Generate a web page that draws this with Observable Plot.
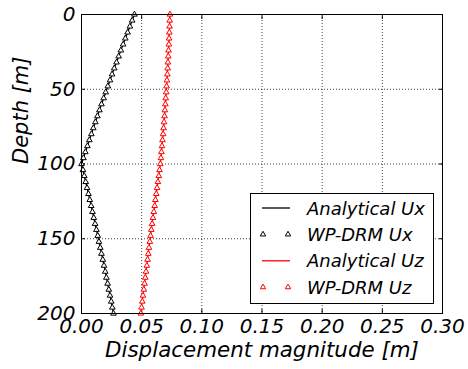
<!DOCTYPE html>
<html><head><meta charset="utf-8">
<script src="https://cdn.jsdelivr.net/npm/d3@7"></script>
<script src="https://cdn.jsdelivr.net/npm/@observablehq/plot@0.6"></script>
<style>body{margin:0;background:#fff} #chart{width:468px;height:369px;position:relative}</style>
</head><body><div id="chart"></div>
<script>
const depth = [0,4,8,12,16,20,24,28,32,36,40,44,48,52,56,60,64,68,72,76,80,84,88,92,96,100,
  104,108,112,116,120,124,128,132,136,140,144,148,152,156,160,164,168,172,176,180,184,188,192,196,200];
const uxValues = [0.0440,0.0421,0.0402,0.0383,0.0364,0.0346,0.0327,0.0309,0.0291,0.0272,0.0254,0.0237,0.0219,
  0.0201,0.0184,0.0166,0.0149,0.0132,0.0115,0.0098,0.0082,0.0065,0.0049,0.0032,0.0016,0.0000,
  0.0012,0.0023,0.0035,0.0046,0.0058,0.0069,0.0080,0.0091,0.0102,0.0113,0.0124,0.0135,0.0145,0.0156,
  0.0166,0.0177,0.0187,0.0197,0.0207,0.0217,0.0227,0.0237,0.0247,0.0256,0.0266];
const uzValues = [0.0735,0.0733,0.0732,0.0730,0.0728,0.0726,0.0723,0.0721,0.0718,0.0716,0.0713,0.0710,0.0707,
  0.0704,0.0700,0.0697,0.0693,0.0690,0.0686,0.0682,0.0678,0.0673,0.0669,0.0664,0.0660,0.0655,
  0.0648,0.0642,0.0635,0.0628,0.0621,0.0614,0.0608,0.0601,0.0594,0.0587,0.0580,0.0574,0.0568,0.0561,
  0.0555,0.0549,0.0543,0.0536,0.0530,0.0524,0.0518,0.0511,0.0505,0.0499,0.0493];
const xTicks = [0, 0.05, 0.10, 0.15, 0.20, 0.25, 0.30];
const yTicks = [0, 50, 100, 150, 200];
const legendLabels = ["Analytical Ux", "WP-DRM Ux", "Analytical Uz", "WP-DRM Uz"];
const legendColors = ["black", "black", "red", "red"];
const legendKinds = ["line", "marker", "line", "marker"];
const xLabel = "Displacement magnitude [m]";
const yLabel = "Depth [m]";

const ux = depth.map((d, i) => ({depth: d, value: uxValues[i]}));
const uz = depth.map((d, i) => ({depth: d, value: uzValues[i]}));

const font = "'DejaVu Sans', sans-serif";
const grid = {stroke: "#000", strokeOpacity: 0.75, strokeDasharray: "1,2"};

const chart = Plot.plot({
  width: 468, height: 369,
  marginLeft: 81, marginRight: 26, marginTop: 14, marginBottom: 56,
  x: {domain: [0, 0.30]},
  y: {domain: [0, 200], reverse: true},
  style: {fontFamily: font, fontStyle: "italic", background: "white", color: "black"},
  marks: [
    Plot.gridX(xTicks, grid),
    Plot.gridY(yTicks, grid),
    Plot.axisX(xTicks, {anchor: "bottom", tickSize: 0, tickPadding: 5, tickFormat: d3.format(".2f"), fontSize: 20, label: null}),
    Plot.axisY(yTicks, {anchor: "left", tickSize: 0, tickPadding: 6, tickFormat: d3.format("d"), fontSize: 20, label: null}),
    Plot.axisX(xTicks, {anchor: "bottom", tickSize: -4, text: null, label: null}),
    Plot.axisX(xTicks, {anchor: "top", tickSize: -4, text: null, label: null}),
    Plot.axisY(yTicks, {anchor: "left", tickSize: -4, text: null, label: null}),
    Plot.axisY(yTicks, {anchor: "right", tickSize: -4, text: null, label: null}),
    Plot.line(ux, {x: "value", y: "depth", stroke: "black", strokeWidth: 1.3}),
    Plot.dot(ux, {x: "value", y: "depth", symbol: "triangle", r: 2.1, stroke: "black", fill: "white", strokeWidth: 1}),
    Plot.line(uz, {x: "value", y: "depth", stroke: "red", strokeWidth: 1.3}),
    Plot.dot(uz, {x: "value", y: "depth", symbol: "triangle", r: 2.1, stroke: "red", fill: "white", strokeWidth: 1}),
    Plot.frame({stroke: "black", strokeWidth: 1}),
    Plot.text([xLabel], {frameAnchor: "bottom", dy: 43, lineAnchor: "bottom", fontSize: 21.4, text: d => d}),
    Plot.text([yLabel], {frameAnchor: "left", dx: -53.5, rotate: -90, lineAnchor: "bottom", fontSize: 21, text: d => d})
  ]
});
document.getElementById("chart").appendChild(chart);

// legend
const svg = d3.select(chart);
const lg = svg.append("g").attr("font-family", font).attr("font-style", "italic")
  .attr("font-size", 18).attr("text-anchor", "start");
lg.append("rect").attr("x", 250.5).attr("y", 193.5).attr("width", 183).attr("height", 110)
  .attr("fill", "white").attr("stroke", "black").attr("stroke-width", 1);
const tri = d3.symbol(d3.symbolTriangle, 2 * 2 * Math.PI)();
legendLabels.forEach((lab, i) => {
  const cy = 208 + i * 26.4;
  const row = lg.append("g");
  if (legendKinds[i] === "line") {
    row.append("line").attr("x1", 262).attr("x2", 290).attr("y1", cy).attr("y2", cy)
      .attr("stroke", legendColors[i]).attr("stroke-width", 1.3);
  } else {
    [263, 288].forEach(mx => row.append("path").attr("d", tri)
      .attr("transform", `translate(${mx},${cy})`).attr("fill", "white")
      .attr("stroke", legendColors[i]).attr("stroke-width", 1));
  }
  row.append("text").attr("x", 307).attr("y", cy + 6.5).attr("fill", "black")
    .attr("text-anchor", "start").text(lab);
});
</script>
</body></html>
